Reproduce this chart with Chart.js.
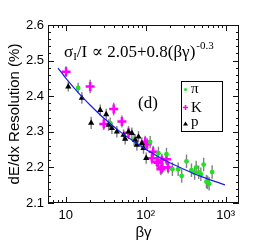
<!DOCTYPE html>
<html>
<head>
<meta charset="utf-8">
<script src="https://cdn.jsdelivr.net/npm/chart.js@4.4.1/dist/chart.umd.min.js"></script>
<style>
  html, body { margin: 0; padding: 0; background: #fff; }
  canvas { display: block; }
</style>
</head>
<body>
<canvas id="myChart" width="266" height="242"></canvas>
<script>
// pions
const pionX = [14.3, 36, 71.8, 113.8, 144.5, 182, 216, 255, 282, 324, 374, 410, 428, 460, 490, 531, 575, 596, 622, 678];
const pionY = [2.423, 2.324, 2.277, 2.271, 2.240, 2.237, 2.195, 2.195, 2.176, 2.217, 2.192, 2.184, 2.200, 2.186, 2.181, 2.208, 2.160, 2.158, 2.154, 2.187];
const pionErr = [0.015, 0.016, 0.017, 0.017, 0.018, 0.018, 0.019, 0.019, 0.019, 0.019, 0.019, 0.019, 0.019, 0.019, 0.019, 0.019, 0.019, 0.019, 0.019, 0.019];

// kaons
const kaonX = [10.1, 20.2, 39.8, 29.9, 50.4, 61, 98.6, 104.4, 119.6, 124, 138, 143, 159.4, 162, 182, 191, 155];
const kaonY = [2.469, 2.427, 2.364, 2.322, 2.329, 2.297, 2.272, 2.265, 2.226, 2.244, 2.216, 2.213, 2.221, 2.200, 2.223, 2.200, 2.195];
const kaonErr = [0.015, 0.019, 0.018, 0.017, 0.017, 0.017, 0.017, 0.017, 0.017, 0.017, 0.017, 0.017, 0.017, 0.017, 0.017, 0.017, 0.017];

// protons
const protonX = [10.75, 15.9, 20.8, 27.0, 32.1, 34.3, 37.8, 43.6, 52.8, 55.4, 61, 67.2, 73.9, 81.3, 77.6, 89.6, 93.9, 101.5];
const protonY = [2.427, 2.395, 2.325, 2.361, 2.349, 2.319, 2.310, 2.300, 2.291, 2.280, 2.300, 2.296, 2.277, 2.286, 2.263, 2.268, 2.254, 2.226];
const protonErr = [0.014, 0.016, 0.017, 0.016, 0.016, 0.016, 0.016, 0.016, 0.016, 0.016, 0.016, 0.016, 0.016, 0.016, 0.016, 0.016, 0.016, 0.016];

// fit curve
const fitX = [8, 10, 15, 20, 30, 50, 70, 100, 150, 200, 300, 500, 700, 980];
const fitY = [2.479, 2.451, 2.405, 2.376, 2.338, 2.297, 2.274, 2.251, 2.228, 2.213, 2.195, 2.174, 2.162, 2.151];

const xMajorTicks = [10, 100, 1000];
const xTickLabels = ['10', '10²', '10³'];
const xMinorTicks = [7, 8, 9, 20, 30, 40, 50, 60, 70, 80, 90, 200, 300, 400, 500, 600, 700, 800, 900];
const yMajorTicks = [2.1, 2.2, 2.3, 2.4, 2.5, 2.6];

const toPoints = (xs, ys) => xs.map((x, i) => ({ x: x, y: ys[i] }));

const errorBars = {
  id: 'errorBars',
  beforeDatasetsDraw(chart) {
    const ctx = chart.ctx;
    const xs = chart.scales.x;
    const ys = chart.scales.y;
    ctx.save();
    ctx.strokeStyle = '#808080';
    ctx.lineWidth = 1.4;
    chart.data.datasets.forEach(ds => {
      if (!ds.err) return;
      ds.data.forEach((p, i) => {
        const px = xs.getPixelForValue(p.x);
        ctx.beginPath();
        ctx.moveTo(px, ys.getPixelForValue(p.y - ds.err[i]));
        ctx.lineTo(px, ys.getPixelForValue(p.y + ds.err[i]));
        ctx.stroke();
      });
    });
    ctx.restore();
  }
};

const frameTicks = {
  id: 'frameTicks',
  afterDraw(chart) {
    const ctx = chart.ctx;
    const a = chart.chartArea;
    const xs = chart.scales.x;
    const ys = chart.scales.y;
    ctx.save();
    ctx.strokeStyle = '#111';
    ctx.lineWidth = 1;
    ctx.beginPath();
    xMajorTicks.concat(xMinorTicks).forEach(v => {
      const px = Math.round(xs.getPixelForValue(v)) + 0.5;
      const len = xMajorTicks.includes(v) ? 6 : 3;
      ctx.moveTo(px, a.bottom); ctx.lineTo(px, a.bottom - len);
      ctx.moveTo(px, a.top); ctx.lineTo(px, a.top + len);
    });
    for (let k = 0; k <= 25; k++) {
      const v = 2.1 + k * 0.02;
      const py = Math.round(ys.getPixelForValue(v)) + 0.5;
      const len = k % 5 === 0 ? 6 : 3;
      ctx.moveTo(a.left, py); ctx.lineTo(a.left + len, py);
      ctx.moveTo(a.right, py); ctx.lineTo(a.right - len, py);
    }
    ctx.stroke();
    ctx.strokeRect(Math.round(a.left) + 0.5, Math.round(a.top) + 0.5,
      Math.round(a.right - a.left) - 1, Math.round(a.bottom - a.top) - 1);
    ctx.restore();
  }
};

const labels = {
  id: 'labels',
  afterDraw(chart) {
    const ctx = chart.ctx;
    ctx.save();
    ctx.fillStyle = '#000';
    ctx.textBaseline = 'alphabetic';
    const big = '17px "Liberation Serif", "DejaVu Serif", serif';
    const small = '11px "Liberation Serif", "DejaVu Serif", serif';
    let cx = 64;
    const base = 57;
    ctx.font = big;
    ctx.fillText('σ', cx, base); cx += ctx.measureText('σ').width;
    ctx.font = small;
    ctx.fillText('I', cx, base + 3); cx += ctx.measureText('I').width;
    ctx.font = big;
    const mid = '/I ∝ 2.05+0.8(βγ)';
    ctx.fillText(mid, cx, base); cx += ctx.measureText(mid).width;
    ctx.font = small;
    ctx.fillText('-0.3', cx + 1, base - 8);

    ctx.font = big;
    ctx.fillText('(d)', 138, 108);

    // legend
    ctx.strokeStyle = '#000';
    ctx.lineWidth = 1;
    ctx.strokeRect(181.5, 81.5, 41, 50);
    ctx.font = '15px "Liberation Serif", "DejaVu Serif", serif';
    ctx.fillText('π', 191, 93);
    ctx.fillText('K', 191, 112);
    ctx.fillText('p', 191, 126);
    ctx.fillStyle = '#22e022';
    ctx.beginPath(); ctx.arc(185.5, 89.5, 1.5, 0, Math.PI * 2); ctx.fill();
    ctx.strokeStyle = '#ff00ff';
    ctx.lineWidth = 1.5;
    ctx.beginPath();
    ctx.moveTo(183, 107.5); ctx.lineTo(188, 107.5);
    ctx.moveTo(185.5, 105); ctx.lineTo(185.5, 110);
    ctx.stroke();
    ctx.fillStyle = '#000';
    ctx.beginPath();
    ctx.moveTo(185.5, 121.5); ctx.lineTo(188, 125.5); ctx.lineTo(183, 125.5);
    ctx.closePath(); ctx.fill();
    ctx.restore();
  }
};

const ctx = document.getElementById('myChart').getContext('2d');

new Chart(ctx, {
  type: 'scatter',
  data: {
    datasets: [
      {
        type: 'line',
        data: toPoints(fitX, fitY),
        borderColor: '#1a1aee',
        borderWidth: 1.2,
        pointRadius: 0,
        fill: false,
        tension: 0.3,
        order: 0
      },
      {
        data: toPoints(protonX, protonY),
        err: protonErr,
        pointStyle: 'triangle',
        pointRadius: 3.6,
        backgroundColor: '#000',
        borderColor: '#000',
        borderWidth: 0,
        order: 1
      },
      {
        data: toPoints(pionX, pionY),
        err: pionErr,
        pointStyle: 'circle',
        pointRadius: 2.4,
        backgroundColor: '#22e022',
        borderColor: '#22e022',
        borderWidth: 0,
        order: 2
      },
      {
        data: toPoints(kaonX, kaonY),
        err: kaonErr,
        pointStyle: 'cross',
        pointRadius: 4.5,
        backgroundColor: '#ff00ff',
        borderColor: '#ff00ff',
        borderWidth: 2.5,
        order: 3
      }
    ]
  },
  options: {
    responsive: false,
    animation: false,
    events: [],
    layout: { padding: { top: 25, right: 27, left: 0, bottom: 0 } },
    plugins: { legend: { display: false }, tooltip: { enabled: false } },
    scales: {
      x: {
        type: 'logarithmic',
        min: 6,
        max: 1470,
        grid: { display: false, drawTicks: false },
        border: { display: false },
        afterBuildTicks: (s) => { s.ticks = xMajorTicks.map(v => ({ value: v })); },
        afterFit: (s) => { s.height = 39; },
        ticks: {
          autoSkip: false,
          maxRotation: 0,
          padding: 5,
          color: '#000',
          font: { family: 'Liberation Sans', size: 13 },
          callback: (value) => xTickLabels[xMajorTicks.indexOf(value)]
        },
        title: {
          display: true,
          text: 'βγ',
          color: '#000',
          font: { family: 'Liberation Sans', size: 15 },
          padding: { top: 0, bottom: 0 }
        }
      },
      y: {
        min: 2.1,
        max: 2.6,
        grid: { display: false, drawTicks: false },
        border: { display: false },
        afterBuildTicks: (s) => { s.ticks = yMajorTicks.map(v => ({ value: v })); },
        afterFit: (s) => { s.width = 48; },
        ticks: {
          padding: 4,
          color: '#000',
          font: { family: 'Liberation Sans', size: 13 },
          callback: (value) => Number(value).toFixed(1)
        },
        title: {
          display: true,
          text: 'dE/dx Resolution (%)',
          color: '#000',
          font: { family: 'Liberation Sans', size: 15 },
          padding: { top: 6, bottom: 0 }
        }
      }
    }
  },
  plugins: [errorBars, frameTicks, labels]
});
</script>
</body>
</html>
